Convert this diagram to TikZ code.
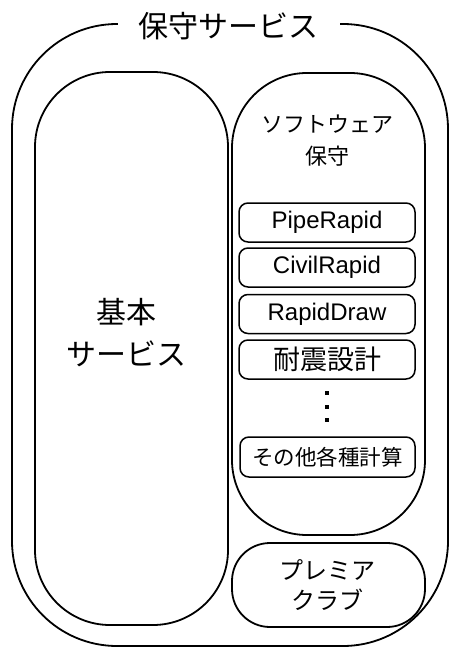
\documentclass[tikz,border=0pt]{standalone}
\usepackage{fontspec}
\setmainfont{Noto Sans CJK JP}
\newfontfamily\latinf{Liberation Sans}
\tikzset{
  frame/.style={draw=black, line width=1.8pt, inner sep=0pt},
  item/.style={frame, line width=1.5pt, rounded corners=9pt, minimum width=176pt, minimum height=39pt},
  lbl/.style={align=center, inner sep=0pt},
}
\begin{document}
\begin{tikzpicture}[x=1pt,y=-1pt]
\useasboundingbox (0,0) rectangle (450,647);
% outer
\node[frame, rounded corners=105pt, minimum width=436pt, minimum height=622pt] (outer) at (230,335) {};
\node[fill=white, minimum width=222pt, minimum height=30pt, inner sep=0pt, font=\fontsize{30}{36}\selectfont] (title) at (228.5,26) {保守サービス};
% left box
\node[frame, rounded corners=75pt, minimum width=193pt, minimum height=553pt] (basic) at (131.5,348.5) {};
\node[lbl, font=\fontsize{30}{42}\selectfont] (basiclbl) at (126,333) {基本\\サービス};
% right box
\node[frame, rounded corners=75pt, minimum width=193pt, minimum height=462pt] (soft) at (328.5,304) {};
\node[lbl, font=\fontsize{22}{32}\selectfont] (softlbl) at (327,141) {ソフトウェア\\保守};
% items
\node[item, font=\latinf\fontsize{24}{28}\selectfont] (pipe) at (327,222.5) {PipeRapid};
\node[item, font=\latinf\fontsize{24}{28}\selectfont] (civil) at (327,267.5) {CivilRapid};
\node[item, font=\latinf\fontsize{24}{28}\selectfont] (draw) at (327,314) {RapidDraw};
\node[item, font=\fontsize{27}{30}\selectfont] (taishin) at (327,359.5) {耐震設計};
\fill (325,391) rectangle (329,395);
\fill (325,405) rectangle (329,409);
\fill (325,418) rectangle (329,422);
\node[item, minimum width=175pt, minimum height=40pt, font=\fontsize{21.5}{26}\selectfont] (other) at (327.5,457) {その他各種計算};
% premier
\node[frame, rounded corners=38pt, minimum width=193pt, minimum height=84pt] (premier) at (328.5,585) {};
\node[lbl, font=\fontsize{24}{30}\selectfont] (premierlbl) at (327,585) {プレミア\\クラブ};
\end{tikzpicture}
\end{document}
